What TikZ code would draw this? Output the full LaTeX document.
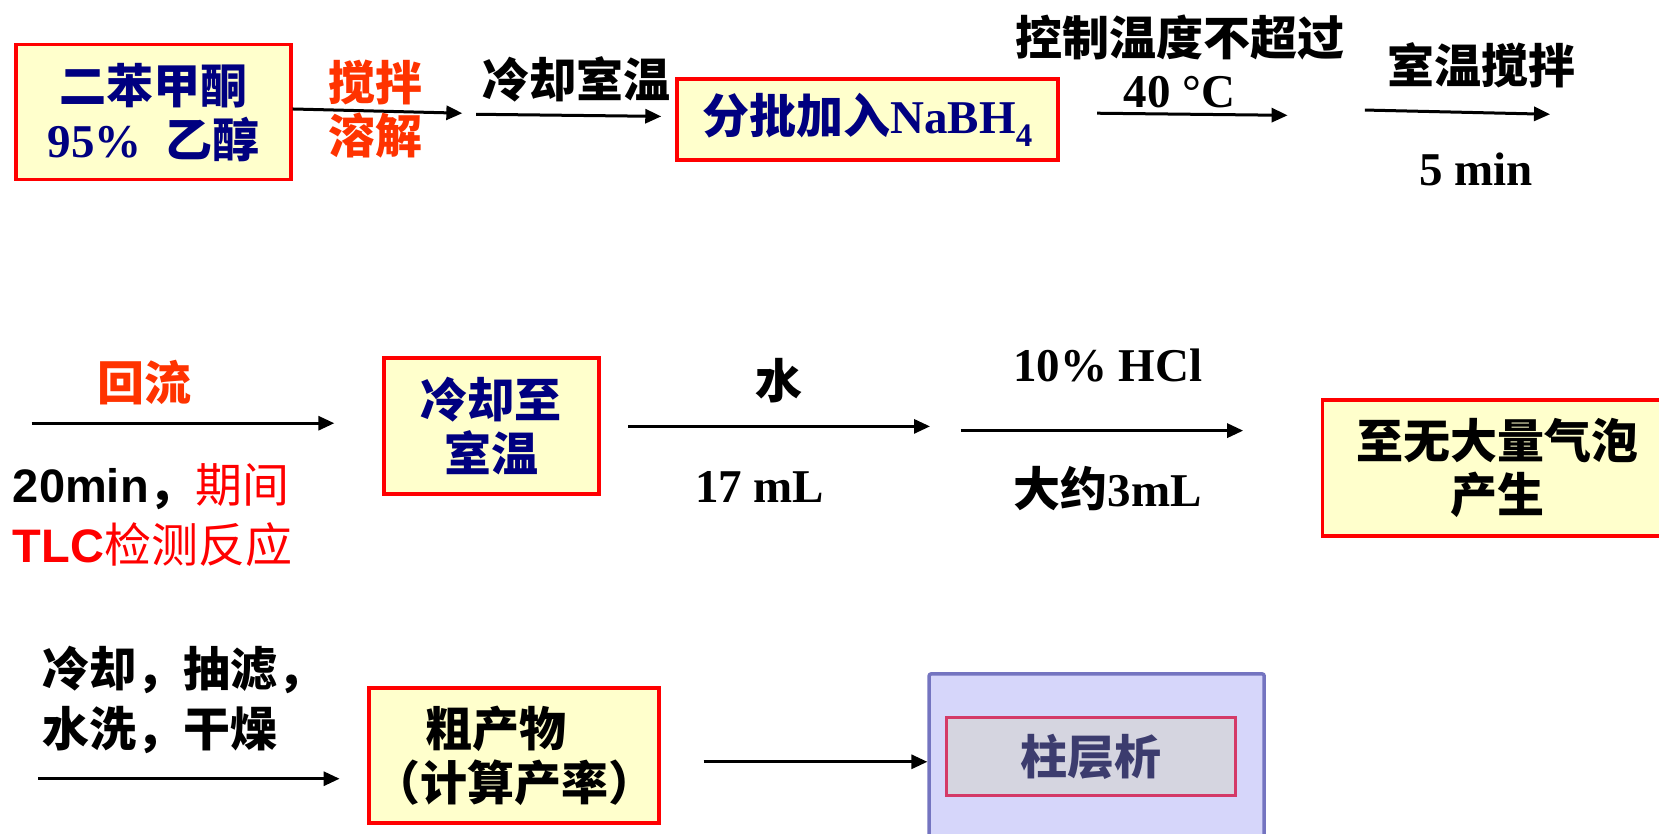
\documentclass[tikz,border=0pt]{standalone}
\usepackage{fontspec}
\setmainfont{Liberation Serif}
\newfontfamily\cjk{Noto Sans CJK SC}
\newfontfamily\arial{Liberation Sans}
\usetikzlibrary{arrows.meta}
\definecolor{mynavy}{RGB}{0,0,128}
\definecolor{boxred}{RGB}{255,0,0}
\definecolor{boxfill}{RGB}{255,255,204}
\definecolor{orred}{RGB}{255,51,0}
\definecolor{lavfill}{RGB}{214,214,250}
\definecolor{lavline}{RGB}{116,116,192}
\definecolor{greyfill}{RGB}{213,213,224}
\definecolor{crimson}{RGB}{212,58,104}
\definecolor{slate}{RGB}{60,60,110}
\newcommand\C[1]{{\cjk #1}}
\begin{document}
\begin{tikzpicture}[x=1.058pt,y=-1.058pt,
  every node/.style={inner sep=0pt, align=center},
  fs/.style={font=\fontsize{47}{54}\selectfont\bfseries},
  box/.style={draw=boxred, fill=boxfill, line width=3.5pt, fs},
  arr/.style={line width=3pt, -{Triangle[length=16pt,width=14pt]}},
]
\useasboundingbox (0,0) rectangle (1568,788);

% boxes
\node[box, text=mynavy, minimum width=275pt, minimum height=135pt] (b1) at (145,106)
  {\C{二苯甲酮}\\95\%~~\C{乙醇}};
\node[box, text=mynavy, minimum width=381pt, minimum height=81pt] (b2) at (820,113)
  {\C{分批加入}NaBH\textsubscript{4}};
\node[box, text=mynavy, minimum width=215pt, minimum height=136pt] (b3) at (464.5,402.5)
  {\C{冷却至}\\\C{室温}};
\node[box, minimum width=349pt, minimum height=136pt] (b4) at (1415,442.5)
  {\C{至无大量气泡}\\\C{产生}};
\node[box, minimum width=290pt, minimum height=135pt] (b5) at (486,714)
  {\C{粗产物}\hspace*{36pt}\\\C{（计算产率）}};
\node[draw=lavline, fill=lavfill, line width=3.5pt, rounded corners=2pt,
  minimum width=335pt, minimum height=180pt] (b6) at (1036.5,722) {};
\node[draw=crimson, fill=greyfill, line width=3pt, fs, text=slate,
  minimum width=289pt, minimum height=78pt] (b6i) at (1031.5,715) {\C{柱层析}};

% coordinates for free arrow ends
\coordinate (a1e) at (437,107);
\coordinate (a2s) at (450,108); \coordinate (a2e) at (625,110);
\coordinate (a3s) at (1037,107); \coordinate (a3e) at (1217,109);
\coordinate (a4s) at (1290,104); \coordinate (a4e) at (1465,108);
\coordinate (a5s) at (30,400); \coordinate (a5e) at (316,400);
\coordinate (a6s) at (594,403); \coordinate (a6e) at (879,403);
\coordinate (a7s) at (908,407); \coordinate (a7e) at (1175,407);
\coordinate (a8s) at (36,736); \coordinate (a8e) at (321,736);
\coordinate (a9s) at (665,720);

% arrows
\draw[arr] (b1.east |- 0,103) -- (a1e);
\draw[arr] (a2s) -- (a2e);
\draw[arr] (a3s) -- (a3e);
\draw[arr] (a4s) -- (a4e);
\draw[arr] (a5s) -- (a5e);
\draw[arr] (a6s) -- (a6e);
\draw[arr] (a7s) -- (a7e);
\draw[arr] (a8s) -- (a8e);
\draw[arr] (a9s) -- (b6.west |- a9s);

% labels
\node[fs, text=orred] (l1a) at (355,78) {\C{搅拌}};
\node[fs, text=orred] (l1b) at (355,128) {\C{溶解}};
\node[fs] (l2) at (545,75) {\C{冷却室温}};
\node[fs] (l3a) at (1115,35) {\C{控制温度不超过}};
\node[fs] (l3b) at (1115,87) {40 °C};
\node[fs] (l4a) at (1400,62) {\C{室温搅拌}};
\node[fs] (l4b) at (1395,160) {5 min};
\node[fs, text=orred] (l5a) at (137,362) {\C{回流}};
\node[fs, anchor=west] (l5b) at (12,460)
  {{\arial 20min}\C{，}{\color{red}\C{\mdseries 期间}}};
\node[fs, anchor=west, text=red] (l5c) at (12,515)
  {{\arial TLC}\C{\mdseries 检测反应}};
\node[fs] (l6a) at (736,360) {\C{水}};
\node[fs] (l6b) at (718,460) {17 mL};
\node[fs] (l7a) at (1047,345) {10\% HCl};
\node[fs] (l7b) at (1047,462) {\C{大约}3mL};
\node[fs, anchor=west] (l8a) at (40,633) {\C{冷却，抽滤，}};
\node[fs, anchor=west] (l8b) at (40,690) {\C{水洗，干燥}};
\end{tikzpicture}
\end{document}
